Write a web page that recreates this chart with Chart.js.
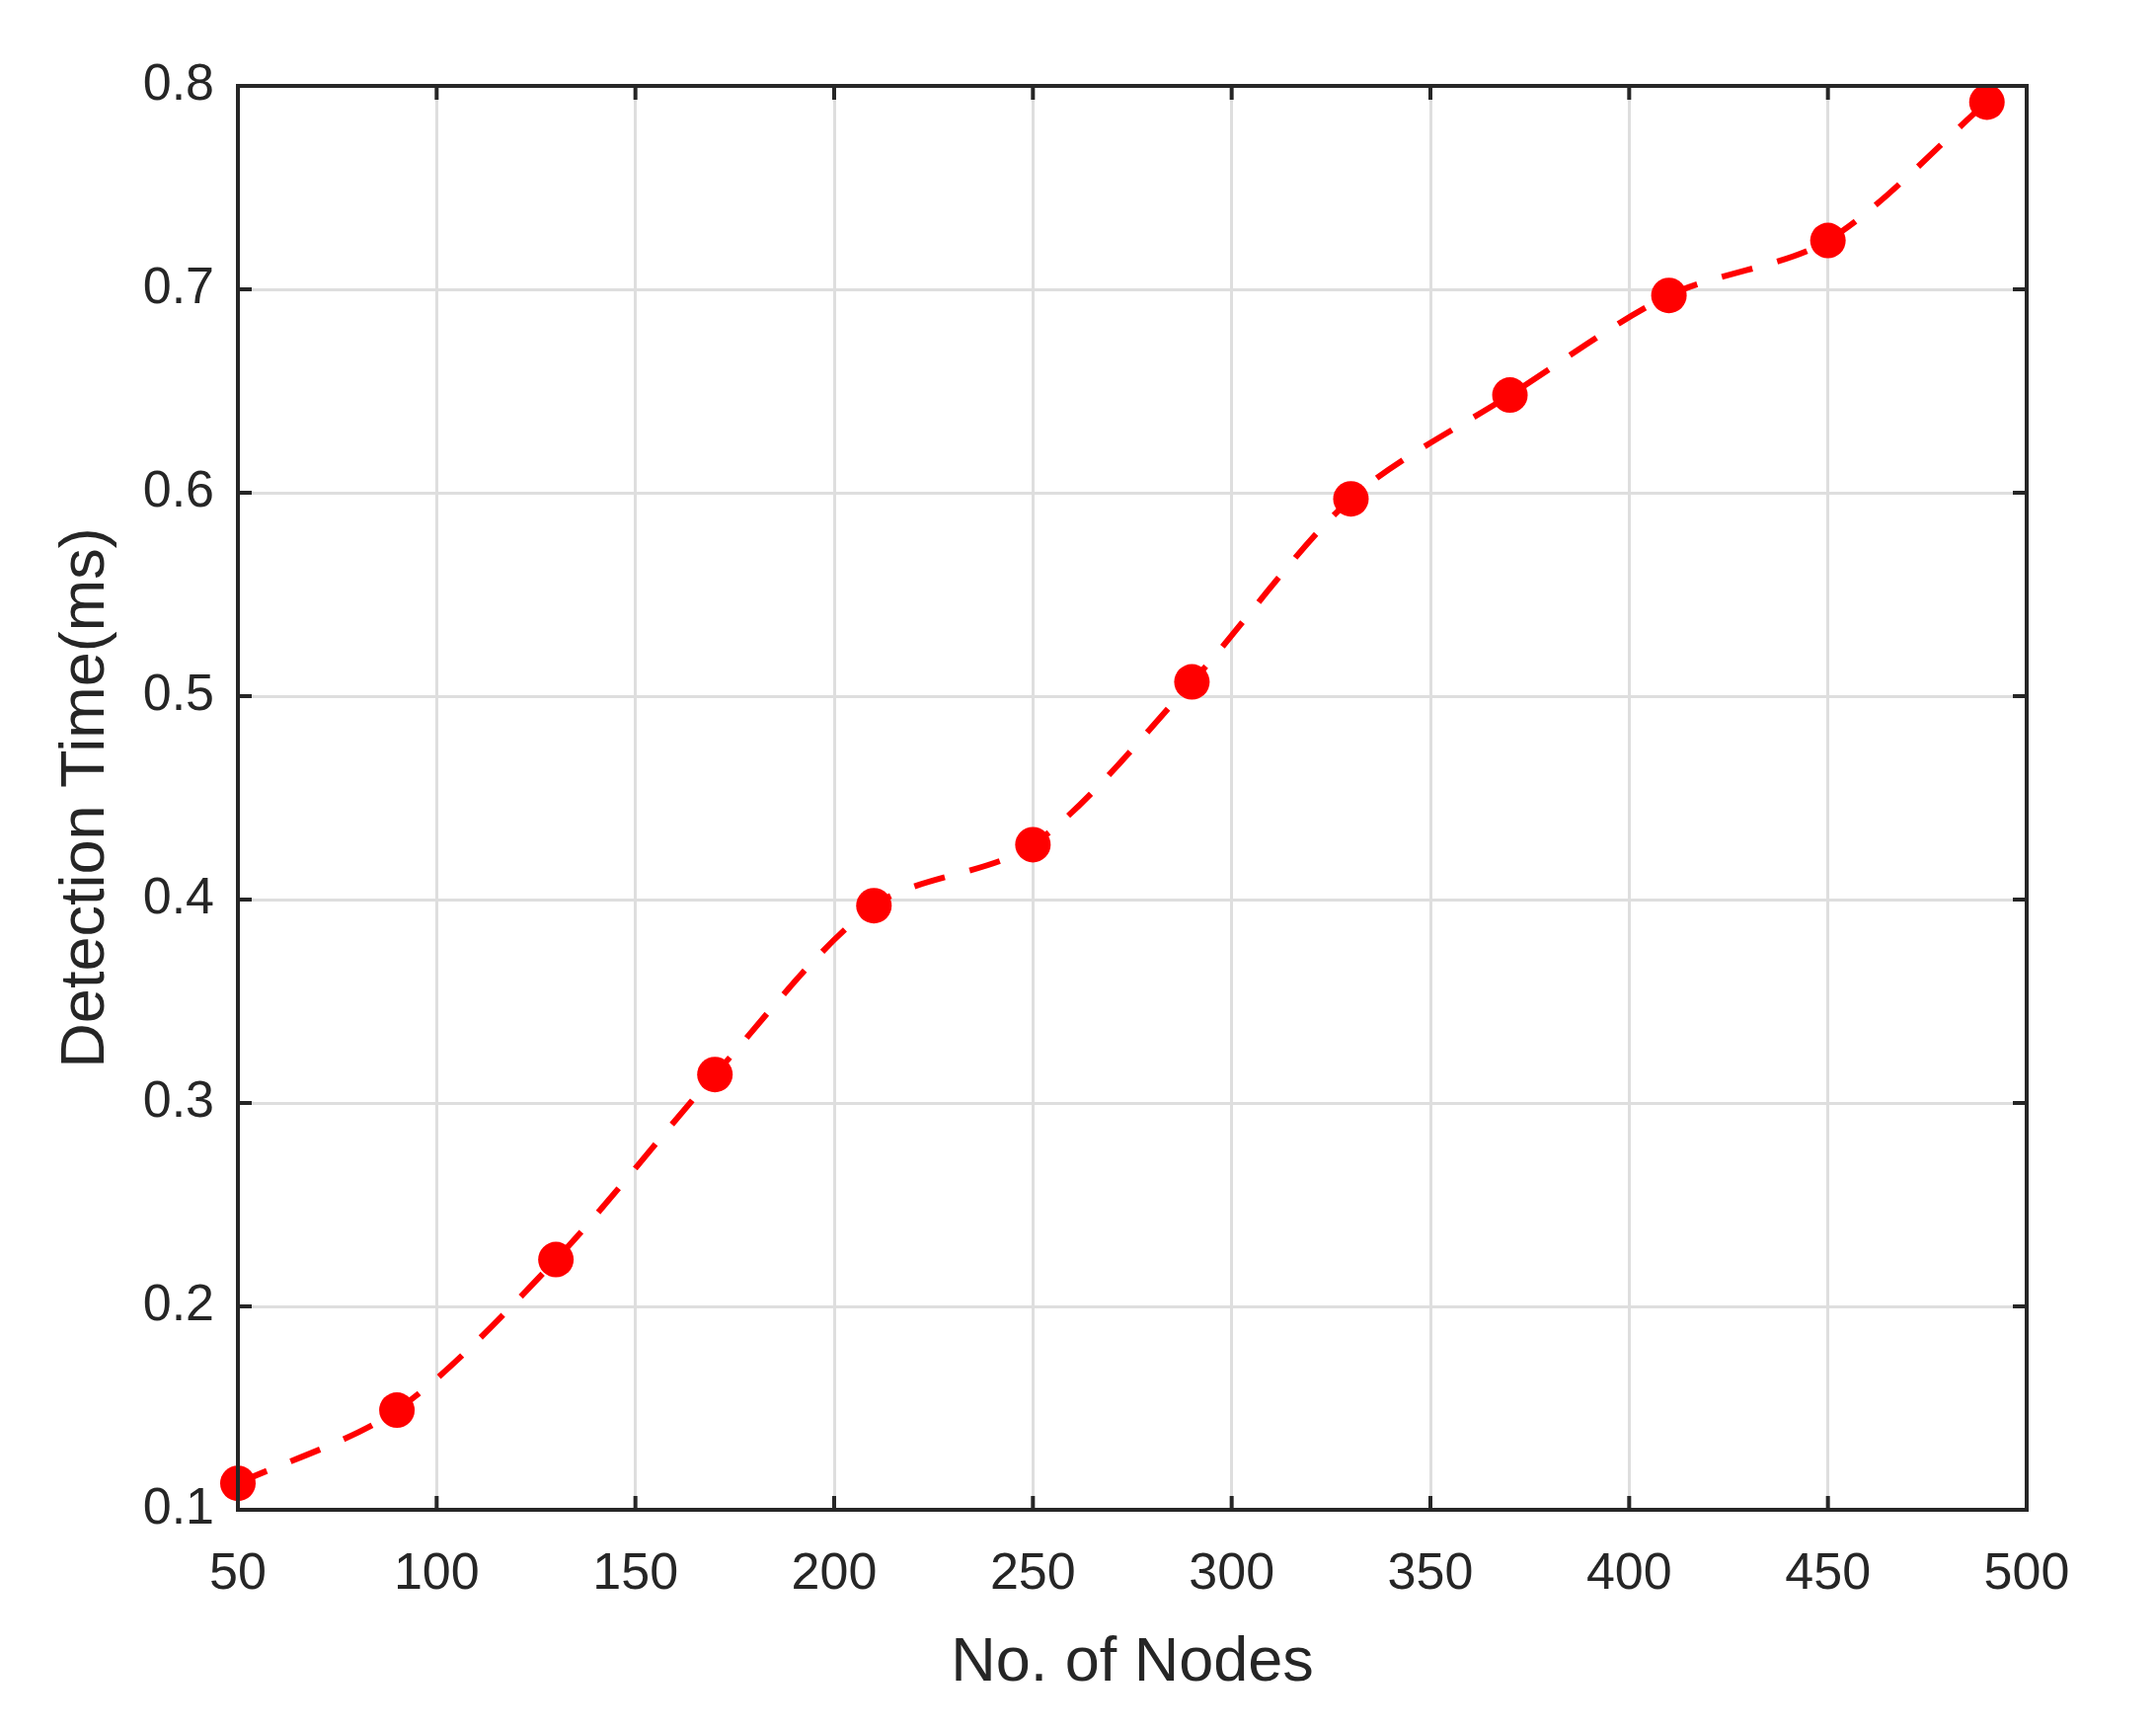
<!DOCTYPE html>
<html>
<head>
<meta charset="utf-8">
<script src="https://cdn.jsdelivr.net/npm/chart.js@4/dist/chart.umd.min.js"></script>
<style>
  html, body { margin: 0; padding: 0; background: #fff; }
  #wrap { width: 2184px; height: 1752px; }
</style>
</head>
<body>
<div id="wrap"><canvas id="detChart" width="2184" height="1752"></canvas></div>
<script>
const nodes = [50, 90, 130, 170, 210, 250, 290, 330, 370, 410, 450, 490];
const detectionTime = [0.113, 0.149, 0.223, 0.314, 0.397, 0.427, 0.507, 0.597, 0.648, 0.697, 0.724, 0.792];
const xTicks = [50, 100, 150, 200, 250, 300, 350, 400, 450, 500];
const yTicks = [0.1, 0.2, 0.3, 0.4, 0.5, 0.6, 0.7, 0.8];

// Colors
const axisColor = '#262626';
const gridColor = '#dedede';
const lineColor = '#ff0000';

// box around the plot with inward ticks, matlab style
const boxPlugin = {
  id: 'box',
  afterDraw(chart) {
    const { ctx, chartArea: a, scales } = chart;
    ctx.save();
    ctx.strokeStyle = axisColor;
    ctx.lineWidth = 4;
    ctx.strokeRect(a.left, a.top, a.right - a.left, a.bottom - a.top);
    const len = 14;
    xTicks.forEach(v => {
      const px = scales.x.getPixelForValue(v);
      ctx.beginPath();
      ctx.moveTo(px, a.bottom); ctx.lineTo(px, a.bottom - len);
      ctx.moveTo(px, a.top); ctx.lineTo(px, a.top + len);
      ctx.stroke();
    });
    yTicks.forEach(v => {
      const py = scales.y.getPixelForValue(v);
      ctx.beginPath();
      ctx.moveTo(a.left, py); ctx.lineTo(a.left + len, py);
      ctx.moveTo(a.right, py); ctx.lineTo(a.right - len, py);
      ctx.stroke();
    });
    ctx.restore();
  }
};

new Chart(document.getElementById('detChart').getContext('2d'), {
  type: 'line',
  data: {
    datasets: [{
      label: 'Detection Time',
      data: nodes.map((n, i) => ({ x: n, y: detectionTime[i] })),
      borderColor: lineColor,
      backgroundColor: lineColor,
      borderWidth: 6,
      borderDash: [32, 26],
      tension: 0.3,
      pointStyle: 'circle',
      pointRadius: 18,
      pointBorderWidth: 0,
      pointBackgroundColor: lineColor,
      fill: false,
      clip: false
    }]
  },
  options: {
    responsive: false,
    animation: false,
    layout: { padding: { left: 0, right: 131, top: 87, bottom: 0 } },
    plugins: {
      legend: { display: false },
      tooltip: { enabled: false }
    },
    scales: {
      x: {
        type: 'linear',
        min: 50,
        max: 500,
        afterFit(scale) { scale.height = 223; },
        afterBuildTicks(scale) { scale.ticks = xTicks.map(v => ({ value: v })); },
        grid: { color: gridColor, lineWidth: 3, drawTicks: false },
        border: { display: false },
        title: {
          display: true,
          text: 'No. of Nodes',
          color: axisColor,
          font: { family: 'Liberation Sans', size: 63 },
          padding: { top: 0, bottom: 30 }
        },
        ticks: {
          color: axisColor,
          font: { family: 'Liberation Sans', size: 52 },
          padding: 34,
          maxRotation: 0
        }
      },
      y: {
        min: 0.1,
        max: 0.8,
        afterFit(scale) { scale.width = 241; },
        afterBuildTicks(scale) { scale.ticks = yTicks.map(v => ({ value: v })); },
        grid: { color: gridColor, lineWidth: 3, drawTicks: false },
        border: { display: false },
        title: {
          display: true,
          text: 'Detection Time(ms)',
          color: axisColor,
          font: { family: 'Liberation Sans', size: 63 },
          padding: { top: 50, bottom: 0 }
        },
        ticks: {
          color: axisColor,
          font: { family: 'Liberation Sans', size: 52 },
          padding: 24,
          callback: v => v.toFixed(1)
        }
      }
    }
  },
  plugins: [boxPlugin]
});
</script>
</body>
</html>
